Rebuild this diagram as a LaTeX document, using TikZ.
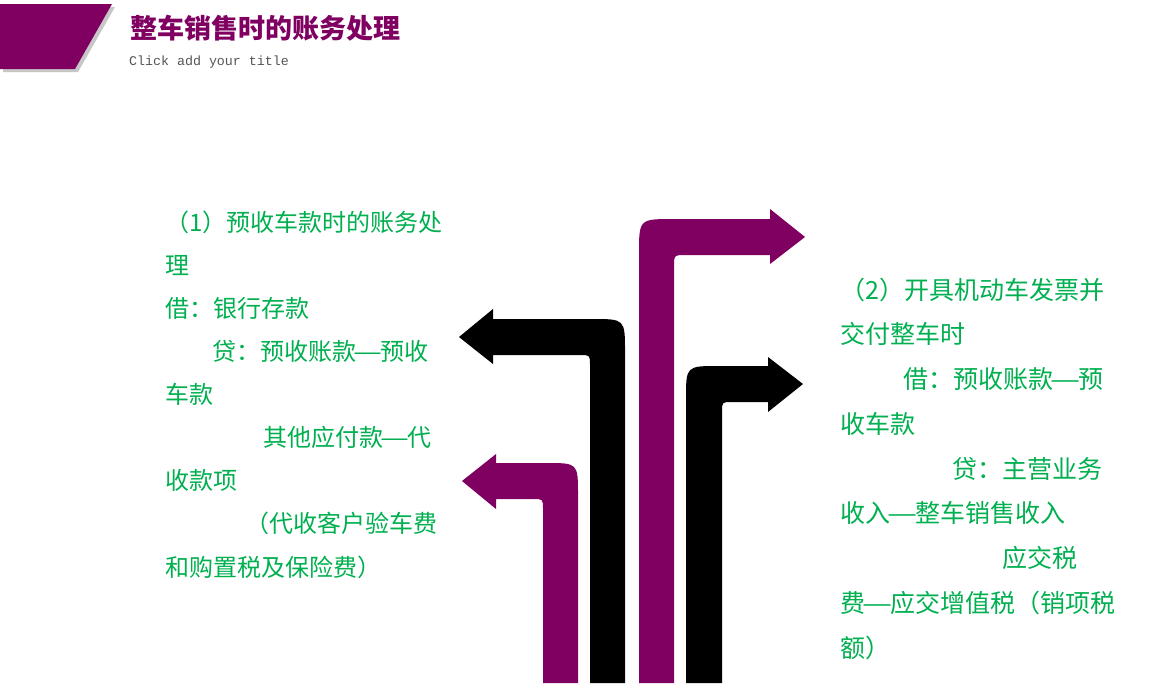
\documentclass[tikz,border=0pt]{standalone}
\usepackage{graphicx}
\usepackage{fontspec}
\newfontfamily\cjk{Noto Sans CJK SC}
\setmonofont{Liberation Mono}
\usetikzlibrary{positioning}
\definecolor{SalePurple}{RGB}{128,0,98}
\definecolor{NoteGreen}{RGB}{0,176,80}
\definecolor{SubGray}{RGB}{85,85,85}
\newcommand\fdash{\makebox[1em]{\scalebox{1.35}[1]{—}}}
\tikzset{
  note/.style={anchor=base west, inner sep=0pt, align=left, text=NoteGreen},
  bandP/.style={fill=SalePurple},
  bandK/.style={fill=black},
}

\begin{document}
\begin{tikzpicture}[x=1pt, y=-1pt]
    \useasboundingbox[fill=white] (0,0) rectangle (1151,683);
    % title block
    \fill[black!22] (3,7) -- (115,7) -- (78,72) -- (3,72) -- cycle;
    \fill[bandP] (0,4) -- (112,4) -- (75,69) -- (0,69) -- cycle;
    \node[anchor=base west, inner sep=0pt, text=SalePurple, font=\cjk\bfseries\fontsize{27}{30}\selectfont] (title) at (130,38) {整车销售时的账务处理};
    \node[anchor=base west, inner sep=0pt, text=SubGray, font=\ttfamily\fontsize{13.3}{15}\selectfont] (subtitle) at (129,65) {Click add your title};
    % four bent arrows
    \fill[bandP] (543,683) -- (543,509) .. controls (543,499) .. (533,499) -- (496,499) -- (496,509) -- (462,481) -- (496,454) -- (496,463) -- (546,463) .. controls (578,463) .. (578,495) -- (578,683) -- cycle;
    \fill[bandK] (590,683) -- (590,365) .. controls (590,355) .. (580,355) -- (493,355) -- (493,364) -- (459,337) -- (493,309) -- (493,319) -- (592,319) .. controls (625,319) .. (625,352) -- (625,683) -- cycle;
    \fill[bandP] (639,683) -- (639,254) .. controls (639,219) .. (674,219) -- (770,219) -- (770,209) -- (805,237) -- (770,264) -- (770,255) -- (686,255) .. controls (674,255) .. (674,267) -- (674,683) -- cycle;
    \fill[bandK] (686,683) -- (686,399) .. controls (686,366) .. (719,366) -- (768,366) -- (768,357) -- (803,384) -- (768,412) -- (768,402) -- (732,402) .. controls (722,402) .. (722,412) -- (722,683) -- cycle;
    % entries (anchored at the last line)
    \node[note, font=\cjk\fontsize{24}{43.1}\selectfont] (advance) at (165,576) {%
      （1）预收车款时的账务处\\
      理\\
      借：银行存款\\
      \hspace*{47pt}贷：预收账款\fdash 预收\\
      车款\\
      \hspace*{98pt}其他应付款\fdash 代\\
      收款项\\
      \hspace*{80pt}（代收客户验车费\\
      和购置税及保险费）};
    \node[note, font=\cjk\fontsize{25}{44.75}\selectfont] (invoice) at (840,657) {%
      （2）开具机动车发票并\\
      交付整车时\\
      \hspace*{63pt}借：预收账款\fdash 预\\
      收车款\\
      \hspace*{112pt}贷：主营业务\\
      收入\fdash 整车销售收入\\
      \hspace*{162pt}应交税\\
      费\fdash 应交增值税（销项税\\
      额）};
\end{tikzpicture}
\end{document}
